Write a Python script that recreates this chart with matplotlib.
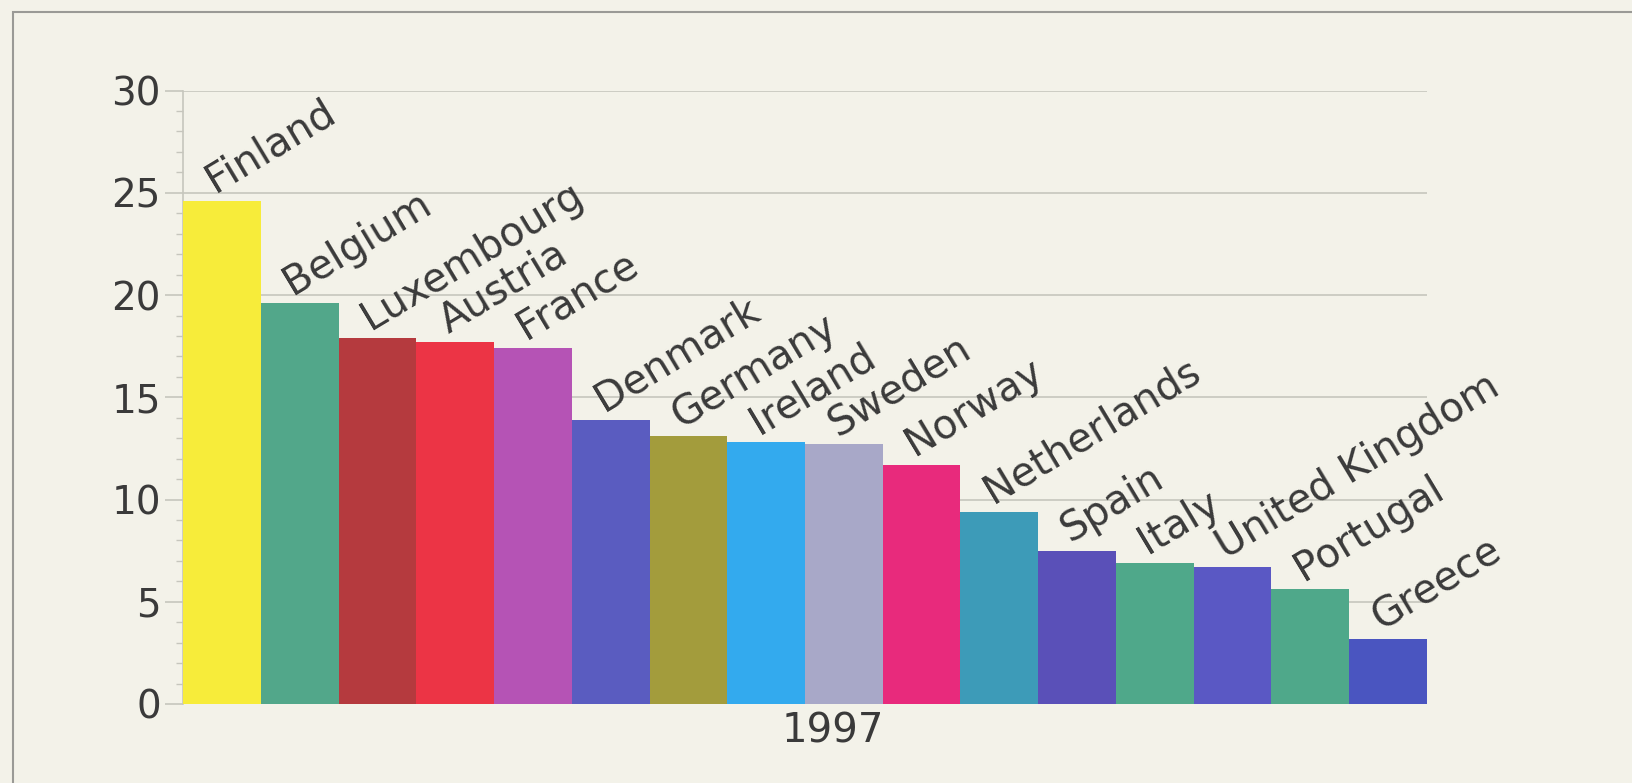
import matplotlib
matplotlib.use("Agg")
import matplotlib.pyplot as plt
from matplotlib.patches import Rectangle
from matplotlib.ticker import MultipleLocator

countries = ["Finland", "Belgium", "Luxembourg", "Austria", "France", "Denmark",
             "Germany", "Ireland", "Sweden", "Norway", "Netherlands", "Spain",
             "Italy", "United Kingdom", "Portugal", "Greece"]
values = [24.6, 19.6, 17.9, 17.7, 17.4, 13.9, 13.1, 12.8, 12.7, 11.7,
          9.4, 7.5, 6.9, 6.7, 5.6, 3.2]
colors = ["#f7ec3a", "#52a78a", "#b53a3e", "#ec3445", "#b553b5", "#5a5cc0",
          "#a39c3c", "#33aaee", "#a8a8c8", "#e82a7c", "#3d9bb8", "#5a50b8",
          "#4fa88a", "#5a58c4", "#4fa88a", "#4a55c0"]
year = "1997"
yticks = [0, 5, 10, 15, 20, 25, 30]

plt.rcParams['font.family'] = ['DejaVu Sans']
bg = "#f3f2e9"
grid_col = "#c6c6bd"
text_col = "#3a3a3a"

fig = plt.figure(figsize=(16.33, 7.83), dpi=100, facecolor=bg)
ax = fig.add_axes([0.1121, 0.1009, 0.7617, 0.7834])
ax.set_facecolor(bg)

# scanned page frame
fig.patches.append(Rectangle((0.0077, -0.05), 1.2, 1.0341, transform=fig.transFigure,
                             fill=False, edgecolor="#9a9a96", linewidth=1.5))

xs = list(range(len(countries)))
ax.bar(xs, values, width=1.0, color=colors, edgecolor="none", zorder=3)

for x, v, name in zip(xs, values, countries):
    ax.text(x - 0.09, v + 0.4, name, rotation=31, rotation_mode="anchor",
            ha="left", va="baseline", fontsize=29, color=text_col, zorder=4)

ax.set_xlim(-0.5, len(countries) - 0.5)
ax.set_ylim(0, 30)
ax.set_yticks(yticks)
ax.yaxis.set_minor_locator(MultipleLocator(1))
ax.set_xticks([])
ax.tick_params(axis="y", which="major", length=13, width=1.2, color=grid_col,
               labelsize=28, labelcolor=text_col, pad=3)
ax.tick_params(axis="y", which="minor", length=5, width=1.0, color=grid_col)
ax.yaxis.grid(True, color=grid_col, linewidth=1.2, zorder=0)

for side in ["top", "right", "bottom"]:
    ax.spines[side].set_visible(False)
ax.spines["left"].set_color(grid_col)
ax.spines["left"].set_linewidth(1.2)

ax.text(0.5225, -0.045, year, transform=ax.transAxes, ha="center", va="center",
        fontsize=29, color=text_col)

fig.savefig("out.png", dpi=100, facecolor=bg)
